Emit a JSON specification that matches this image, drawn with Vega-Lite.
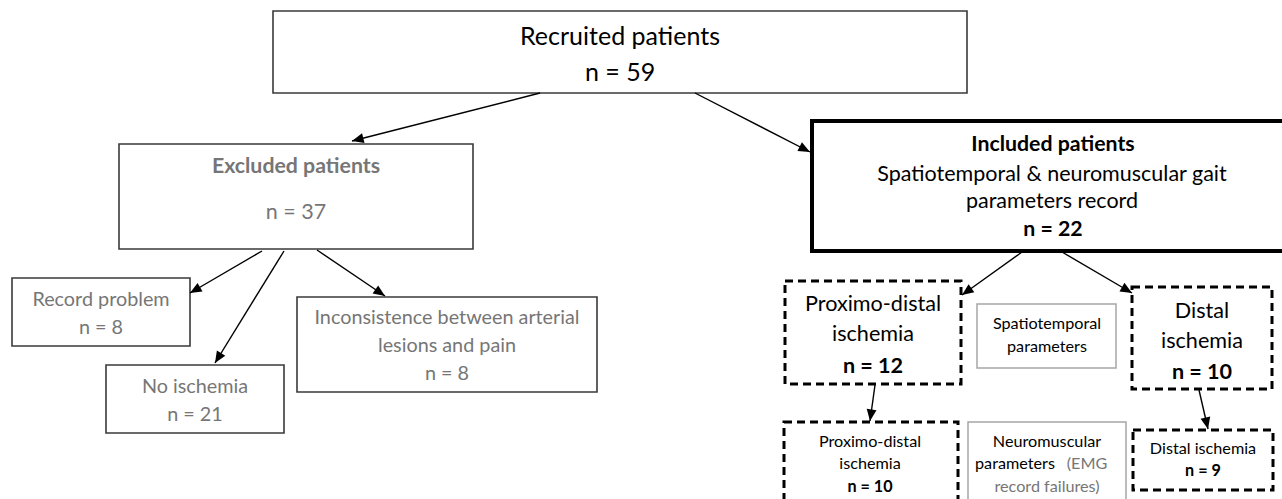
{
  "$schema": "https://vega.github.io/schema/vega-lite/v6.json",
  "width": 1282,
  "height": 499,
  "padding": 0,
  "autosize": "none",
  "background": "white",
  "config": {"view": {"stroke": null}, "text": {"font": "Lato", "align": "center", "baseline": "middle"}},
  "encoding": {
    "x": {"field": "x", "type": "quantitative", "scale": {"domain": [0, 1282], "nice": false, "zero": false}, "axis": null},
    "y": {"field": "y", "type": "quantitative", "scale": {"domain": [0, 499], "nice": false, "zero": false, "reverse": true}, "axis": null}
  },
  "datasets": {
    "boxes": [
      {"id": "recruited", "x": 273, "x2": 967, "y": 11, "y2": 93, "kind": "plain"},
      {"id": "excluded", "x": 119, "x2": 473, "y": 144, "y2": 249, "kind": "plain"},
      {"id": "record", "x": 12, "x2": 190, "y": 278, "y2": 346, "kind": "plain"},
      {"id": "noisch", "x": 106, "x2": 284, "y": 365, "y2": 433, "kind": "plain"},
      {"id": "incons", "x": 297, "x2": 597, "y": 297, "y2": 392, "kind": "plain"},
      {"id": "included", "x": 812, "x2": 1295, "y": 121, "y2": 251, "kind": "thick"},
      {"id": "prox", "x": 785, "x2": 961, "y": 281, "y2": 384, "kind": "dashed"},
      {"id": "spatio", "x": 977, "x2": 1116, "y": 304, "y2": 368, "kind": "light"},
      {"id": "distal", "x": 1132, "x2": 1272, "y": 287, "y2": 389, "kind": "dashed"},
      {"id": "proxb", "x": 784, "x2": 958, "y": 422, "y2": 515, "kind": "dashed"},
      {"id": "neuro", "x": 968, "x2": 1126, "y": 422, "y2": 515, "kind": "light"},
      {"id": "distalb", "x": 1133, "x2": 1273, "y": 430, "y2": 490, "kind": "dashed"}
    ],
    "arrows": [
      {"x": 540, "y": 93, "x2": 352, "y2": 141},
      {"x": 695, "y": 93, "x2": 810, "y2": 152},
      {"x": 262, "y": 251, "x2": 190, "y2": 293},
      {"x": 284, "y": 251, "x2": 215, "y2": 363},
      {"x": 317, "y": 250, "x2": 385, "y2": 296},
      {"x": 1022, "y": 252, "x2": 962, "y2": 295},
      {"x": 1062, "y": 252, "x2": 1132, "y2": 293},
      {"x": 875, "y": 385, "x2": 870, "y2": 421},
      {"x": 1199, "y": 390, "x2": 1208, "y2": 429}
    ],
    "labels": [
      {"x": 620, "y": 37, "t": "Recruited patients", "w": "normal", "tone": "black", "lvl": "L1"},
      {"x": 620, "y": 73, "t": "n = 59", "w": "normal", "tone": "black", "lvl": "L1"},
      {"x": 296, "y": 167, "t": "Excluded patients", "w": "bold", "tone": "gray", "lvl": "L2"},
      {"x": 296, "y": 213, "t": "n = 37", "w": "normal", "tone": "gray", "lvl": "L2"},
      {"x": 101, "y": 300, "t": "Record problem", "w": "normal", "tone": "gray", "lvl": "L5"},
      {"x": 101, "y": 328, "t": "n = 8", "w": "normal", "tone": "gray", "lvl": "L5"},
      {"x": 195, "y": 387, "t": "No ischemia", "w": "normal", "tone": "gray", "lvl": "L5"},
      {"x": 195, "y": 415, "t": "n = 21", "w": "normal", "tone": "gray", "lvl": "L5"},
      {"x": 447, "y": 318, "t": "Inconsistence between arterial", "w": "normal", "tone": "gray", "lvl": "L5"},
      {"x": 447, "y": 346, "t": "lesions and pain", "w": "normal", "tone": "gray", "lvl": "L5"},
      {"x": 447, "y": 374, "t": "n = 8", "w": "normal", "tone": "gray", "lvl": "L5"},
      {"x": 1053, "y": 145, "t": "Included patients", "w": "bold", "tone": "black", "lvl": "L2"},
      {"x": 1052, "y": 175, "t": "Spatiotemporal & neuromuscular gait", "w": "normal", "tone": "black", "lvl": "L2"},
      {"x": 1052, "y": 202, "t": "parameters record", "w": "normal", "tone": "black", "lvl": "L2"},
      {"x": 1053, "y": 230, "t": "n = 22", "w": "bold", "tone": "black", "lvl": "L2"},
      {"x": 873, "y": 305, "t": "Proximo-distal", "w": "normal", "tone": "black", "lvl": "L3"},
      {"x": 873, "y": 335, "t": "ischemia", "w": "normal", "tone": "black", "lvl": "L3"},
      {"x": 873, "y": 367, "t": "n = 12", "w": "bold", "tone": "black", "lvl": "L3"},
      {"x": 1047, "y": 324, "t": "Spatiotemporal", "w": "normal", "tone": "black", "lvl": "L4"},
      {"x": 1047, "y": 347, "t": "parameters", "w": "normal", "tone": "black", "lvl": "L4"},
      {"x": 1202, "y": 312, "t": "Distal", "w": "normal", "tone": "black", "lvl": "L3"},
      {"x": 1202, "y": 342, "t": "ischemia", "w": "normal", "tone": "black", "lvl": "L3"},
      {"x": 1202, "y": 373, "t": "n = 10", "w": "bold", "tone": "black", "lvl": "L3"},
      {"x": 870, "y": 442, "t": "Proximo-distal", "w": "normal", "tone": "black", "lvl": "L4"},
      {"x": 870, "y": 464, "t": "ischemia", "w": "normal", "tone": "black", "lvl": "L4"},
      {"x": 870, "y": 487, "t": "n = 10", "w": "bold", "tone": "black", "lvl": "L4"},
      {"x": 1047, "y": 442, "t": "Neuromuscular", "w": "normal", "tone": "black", "lvl": "L4"},
      {"x": 1015, "y": 464, "t": "parameters", "w": "normal", "tone": "black", "lvl": "L4"},
      {"x": 1087, "y": 464, "t": "(EMG", "w": "normal", "tone": "gray", "lvl": "L4"},
      {"x": 1047, "y": 487, "t": "record failures)", "w": "normal", "tone": "gray", "lvl": "L4"},
      {"x": 1203, "y": 449, "t": "Distal ischemia", "w": "normal", "tone": "black", "lvl": "L4"},
      {"x": 1203, "y": 471, "t": "n = 9", "w": "bold", "tone": "black", "lvl": "L4"}
    ]
  },
  "layer": [
    {
      "data": {"name": "boxes"},
      "transform": [{"filter": "datum.kind == 'plain'"}],
      "mark": {"type": "rect", "fill": "white", "stroke": "#3a3a3a", "strokeWidth": 1.6, "clip": true},
      "encoding": {"x2": {"field": "x2"}, "y2": {"field": "y2"}}
    },
    {
      "data": {"name": "boxes"},
      "transform": [{"filter": "datum.kind == 'thick'"}],
      "mark": {"type": "rect", "fill": "white", "stroke": "#000000", "strokeWidth": 4, "clip": true},
      "encoding": {"x2": {"field": "x2"}, "y2": {"field": "y2"}}
    },
    {
      "data": {"name": "boxes"},
      "transform": [{"filter": "datum.kind == 'dashed'"}],
      "mark": {"type": "rect", "fill": "white", "stroke": "#000000", "strokeWidth": 3, "strokeDash": [8, 5], "clip": true},
      "encoding": {"x2": {"field": "x2"}, "y2": {"field": "y2"}}
    },
    {
      "data": {"name": "boxes"},
      "transform": [{"filter": "datum.kind == 'light'"}],
      "mark": {"type": "rect", "fill": "white", "stroke": "#a6a6a6", "strokeWidth": 1.5, "clip": true},
      "encoding": {"x2": {"field": "x2"}, "y2": {"field": "y2"}}
    },
    {
      "data": {"name": "arrows"},
      "mark": {"type": "rule", "color": "#000000", "strokeWidth": 1.4},
      "encoding": {"x2": {"field": "x2"}, "y2": {"field": "y2"}}
    },
    {
      "data": {"name": "arrows"},
      "transform": [
        {"calculate": "atan2(datum.x2 - datum.x, -(datum.y2 - datum.y)) * 180 / PI", "as": "ang"}
      ],
      "mark": {"type": "point", "shape": "M0,0L-0.85,2L0.85,2Z", "filled": true, "color": "#000000", "opacity": 1, "size": 135, "strokeWidth": 0},
      "encoding": {
        "x": {"field": "x2", "type": "quantitative"},
        "y": {"field": "y2", "type": "quantitative"},
        "angle": {"field": "ang", "type": "quantitative", "scale": null}
      }
    },
    {
      "data": {"name": "labels"},
      "transform": [{"filter": "datum.lvl == 'L1'"}],
      "mark": {"type": "text", "fontSize": 25, "fontWeight": "normal"},
      "encoding": {"text": {"field": "t"}, "color": {"field": "tone", "type": "nominal", "scale": {"domain": ["black", "gray"], "range": ["#000000", "#767676"]}, "legend": null}}
    },
    {
      "data": {"name": "labels"},
      "transform": [{"filter": "datum.lvl == 'L2' && datum.w == 'normal'"}],
      "mark": {"type": "text", "fontSize": 21.5, "fontWeight": "normal"},
      "encoding": {"text": {"field": "t"}, "color": {"field": "tone", "type": "nominal", "scale": {"domain": ["black", "gray"], "range": ["#000000", "#767676"]}, "legend": null}}
    },
    {
      "data": {"name": "labels"},
      "transform": [{"filter": "datum.lvl == 'L2' && datum.w == 'bold'"}],
      "mark": {"type": "text", "fontSize": 21.3, "fontWeight": "bold"},
      "encoding": {"text": {"field": "t"}, "color": {"field": "tone", "type": "nominal", "scale": {"domain": ["black", "gray"], "range": ["#000000", "#767676"]}, "legend": null}}
    },
    {
      "data": {"name": "labels"},
      "transform": [{"filter": "datum.lvl == 'L3' && datum.w == 'normal'"}],
      "mark": {"type": "text", "fontSize": 21.6, "fontWeight": "normal"},
      "encoding": {"text": {"field": "t"}, "color": {"field": "tone", "type": "nominal", "scale": {"domain": ["black", "gray"], "range": ["#000000", "#767676"]}, "legend": null}}
    },
    {
      "data": {"name": "labels"},
      "transform": [{"filter": "datum.lvl == 'L3' && datum.w == 'bold'"}],
      "mark": {"type": "text", "fontSize": 21.6, "fontWeight": "bold"},
      "encoding": {"text": {"field": "t"}, "color": {"field": "tone", "type": "nominal", "scale": {"domain": ["black", "gray"], "range": ["#000000", "#767676"]}, "legend": null}}
    },
    {
      "data": {"name": "labels"},
      "transform": [{"filter": "datum.lvl == 'L4' && datum.w == 'normal'"}],
      "mark": {"type": "text", "fontSize": 16.2, "fontWeight": "normal"},
      "encoding": {"text": {"field": "t"}, "color": {"field": "tone", "type": "nominal", "scale": {"domain": ["black", "gray"], "range": ["#000000", "#767676"]}, "legend": null}}
    },
    {
      "data": {"name": "labels"},
      "transform": [{"filter": "datum.lvl == 'L4' && datum.w == 'bold'"}],
      "mark": {"type": "text", "fontSize": 16.2, "fontWeight": "bold"},
      "encoding": {"text": {"field": "t"}, "color": {"field": "tone", "type": "nominal", "scale": {"domain": ["black", "gray"], "range": ["#000000", "#767676"]}, "legend": null}}
    },
    {
      "data": {"name": "labels"},
      "transform": [{"filter": "datum.lvl == 'L5'"}],
      "mark": {"type": "text", "fontSize": 19.8, "fontWeight": "normal"},
      "encoding": {"text": {"field": "t"}, "color": {"field": "tone", "type": "nominal", "scale": {"domain": ["black", "gray"], "range": ["#000000", "#767676"]}, "legend": null}}
    }
  ]
}
